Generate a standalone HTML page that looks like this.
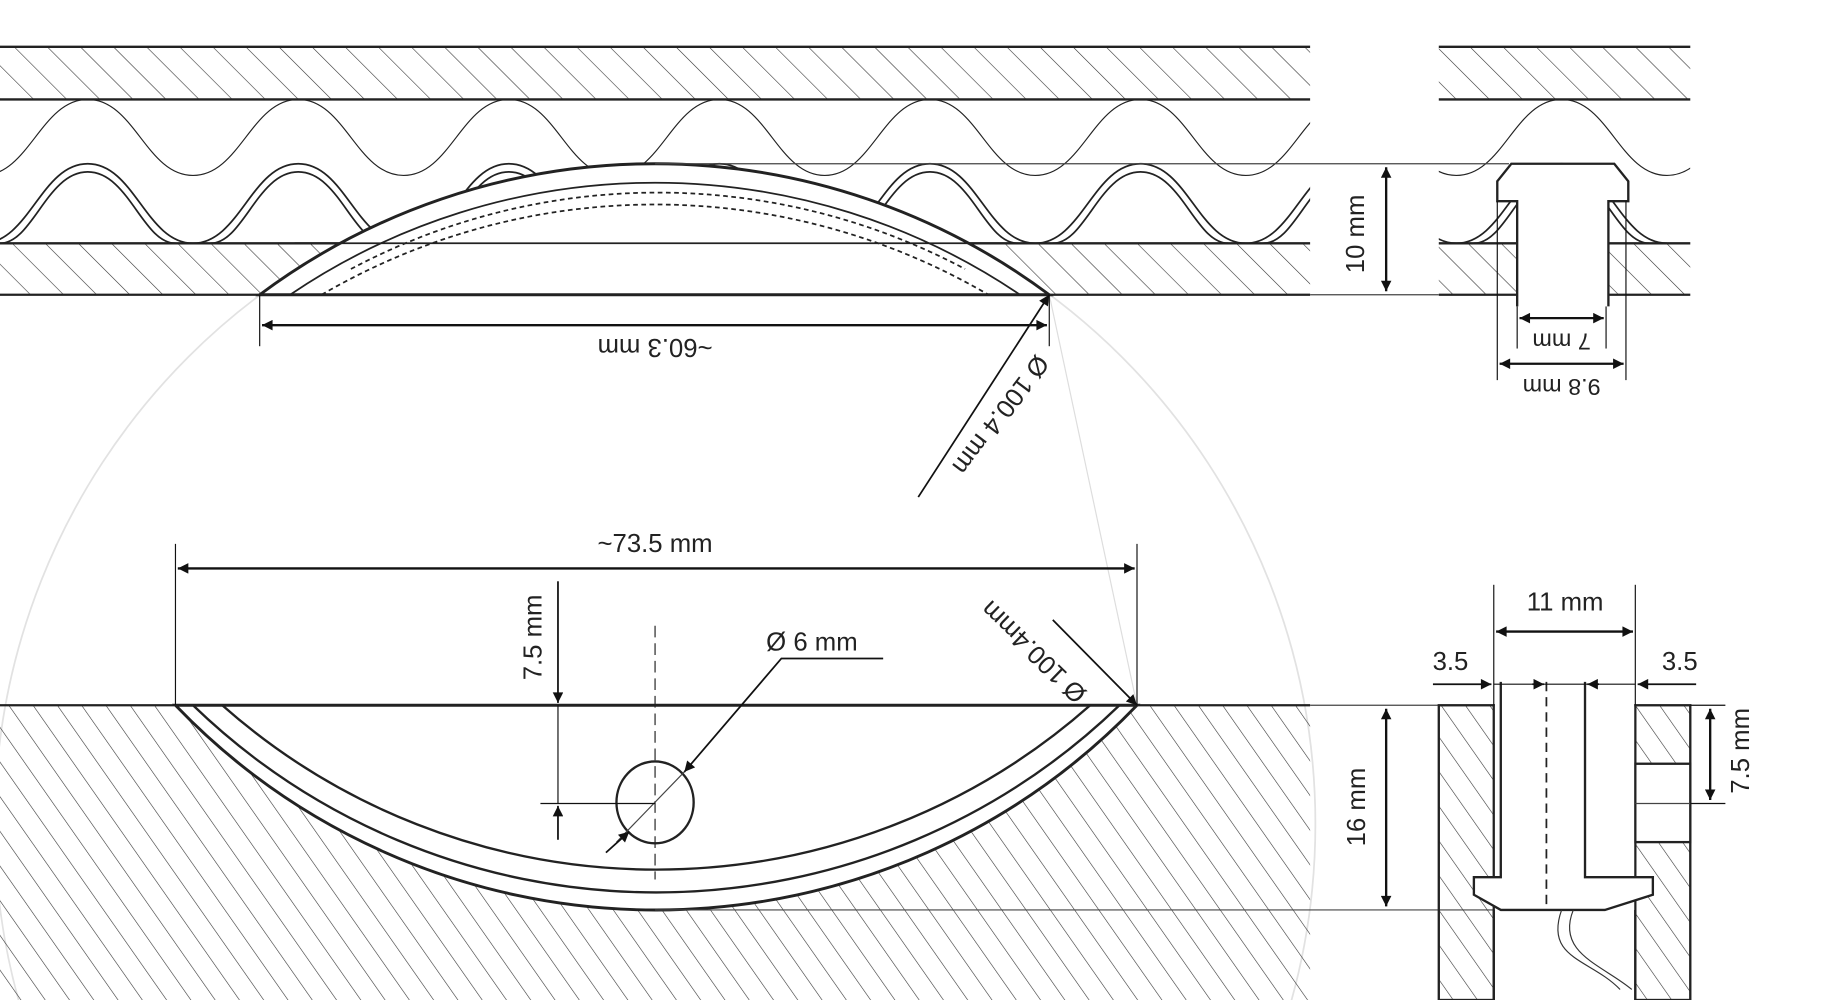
<!DOCTYPE html>
<html><head><meta charset="utf-8"><style>
html,body{margin:0;padding:0;background:#fff;width:1833px;height:1000px;overflow:hidden;}
svg{display:block;}
text{font-family:"Liberation Sans",sans-serif;fill:#222;}
</style></head><body>
<svg width="1833" height="1000" viewBox="0 0 1567 855" preserveAspectRatio="none" xmlns="http://www.w3.org/2000/svg">
<defs>
<pattern id="h1" width="20" height="20" patternUnits="userSpaceOnUse" patternTransform="rotate(-45)">
<line x1="0" y1="0" x2="0" y2="20" stroke="#333" stroke-width="1"/></pattern>
<pattern id="h2" width="17" height="17" patternUnits="userSpaceOnUse" patternTransform="rotate(-35)">
<line x1="0" y1="0" x2="0" y2="17" stroke="#333" stroke-width="1"/></pattern>
<marker id="a" viewBox="0 0 10 10" refX="10" refY="5" markerWidth="14" markerHeight="9" orient="auto-start-reverse" markerUnits="userSpaceOnUse"><path d="M0,0 L10,5 L0,10 z" fill="#111"/></marker>
<clipPath id="topc"><rect x="0" y="85" width="1120" height="123"/><rect x="1230" y="85" width="215" height="123"/></clipPath>
</defs>

<circle cx="560" cy="704.5" r="564.5" fill="none" stroke="#e2e2e2" stroke-width="1.5"/>
<line x1="897" y1="252" x2="972" y2="603" stroke="#ddd" stroke-width="1"/>

<rect x="0" y="40" width="1120" height="45" fill="url(#h1)"/>
<rect x="0" y="208" width="1120" height="44" fill="url(#h1)"/>
<rect x="1230" y="40" width="215" height="45" fill="url(#h1)"/>
<rect x="1230" y="208" width="215" height="44" fill="url(#h1)"/>

<g clip-path="url(#topc)" fill="none" stroke="#222">
<path stroke-width="1" d="M-105,85 C-65,85 -55,150 -15,150 C25,150 35,85 75,85 C115,85 125,150 165,150 C205,150 215,85 255,85 C295,85 305,150 345,150 C385,150 395,85 435,85 C475,85 485,150 525,150 C565,150 575,85 615,85 C655,85 665,150 705,150 C745,150 755,85 795,85 C835,85 845,150 885,150 C925,150 935,85 975,85 C1015,85 1025,150 1065,150 C1105,150 1115,85 1155,85 C1195,85 1205,150 1245,150 C1285,150 1295,85 1335,85 C1375,85 1385,150 1425,150 C1465,150 1475,85 1515,85"/>
<path stroke-width="1.5" d="M-105,140 C-65,140 -55,208 -15,208 C25,208 35,140 75,140 C115,140 125,208 165,208 C205,208 215,140 255,140 C295,140 305,208 345,208 C385,208 395,140 435,140 C475,140 485,208 525,208 C565,208 575,140 615,140 C655,140 665,208 705,208 C745,208 755,140 795,140 C835,140 845,208 885,208 C925,208 935,140 975,140 C1015,140 1025,208 1065,208 C1105,208 1115,140 1155,140 C1195,140 1205,208 1245,208 C1285,208 1295,140 1335,140 C1375,140 1385,208 1425,208"/>
<path stroke-width="1.5" d="M-105,147 C-70,147 -62,208 -30,208 M0,208 C28,208 40,147 75,147 C110,147 122,208 150,208 M180,208 C208,208 220,147 255,147 C290,147 302,208 330,208 M360,208 C388,208 400,147 435,147 C470,147 482,208 510,208 M540,208 C568,208 580,147 615,147 C650,147 662,208 690,208 M720,208 C748,208 760,147 795,147 C830,147 842,208 870,208 M900,208 C928,208 940,147 975,147 C1010,147 1022,208 1050,208 M1080,208 C1108,208 1120,147 1155,147 M1260,208 C1288,208 1300,147 1335,147 C1370,147 1382,208 1410,208"/>
</g>

<g stroke="#222" stroke-width="2">
<line x1="0" y1="40" x2="1120" y2="40"/><line x1="0" y1="85" x2="1120" y2="85"/>
<line x1="0" y1="208" x2="1120" y2="208"/><line x1="0" y1="252" x2="1120" y2="252"/>
<line x1="1230" y1="40" x2="1445" y2="40"/><line x1="1230" y1="85" x2="1445" y2="85"/>
<line x1="1230" y1="208" x2="1445" y2="208"/><line x1="1230" y1="252" x2="1445" y2="252"/>
</g>

<path d="M222,252 A564.5,564.5 0 0 1 897,252 Z" fill="#fff" stroke="#222" stroke-width="2.5"/>
<line x1="222" y1="252" x2="897" y2="252" stroke="#222" stroke-width="2"/>
<line x1="252" y1="208" x2="868" y2="208" stroke="#222" stroke-width="1.5"/>
<path d="M248,252 A556,556 0 0 1 872,252" fill="none" stroke="#222" stroke-width="1.5"/>
<path d="M275,252 A565,565 0 0 1 845,252" fill="none" stroke="#222" stroke-width="1.5" stroke-dasharray="4,3"/>
<path d="M300,230 A560,560 0 0 1 825,230" fill="none" stroke="#222" stroke-width="1.5" stroke-dasharray="4,3"/>
<line x1="560" y1="140" x2="1290" y2="140" stroke="#444" stroke-width="1"/>

<g stroke="#111" fill="none">
<line x1="222" y1="252" x2="222" y2="296" stroke-width="1"/>
<line x1="897" y1="252" x2="897" y2="296" stroke-width="1"/>
<line x1="224" y1="278" x2="895" y2="278" stroke-width="2" marker-start="url(#a)" marker-end="url(#a)"/>
<line x1="785" y1="425" x2="897" y2="252" stroke-width="1.5" marker-end="url(#a)"/>
</g>
<text x="560" y="290" font-size="22" text-anchor="middle" transform="rotate(180 560 290)">~60.3 mm</text>
<text x="886" y="302" font-size="22" transform="rotate(127 886 302)">Ø 100.4 mm</text>

<line x1="1185" y1="143" x2="1185" y2="249" stroke="#111" stroke-width="2" marker-start="url(#a)" marker-end="url(#a)"/>
<line x1="1120" y1="252" x2="1230" y2="252" stroke="#444" stroke-width="1"/>
<text x="1166" y="200" font-size="22" text-anchor="middle" transform="rotate(-90 1166 200)">10 mm</text>

<path d="M1297,262 L1297,172 L1280,172 L1280,155 L1292,140 L1380,140 L1392,155 L1392,172 L1375,172 L1375,262" fill="#fff" stroke="#222" stroke-width="2"/>
<g stroke="#111" fill="none">
<line x1="1280" y1="172" x2="1280" y2="325" stroke-width="1"/>
<line x1="1390" y1="172" x2="1390" y2="325" stroke-width="1"/>
<line x1="1297" y1="262" x2="1297" y2="298" stroke-width="1"/>
<line x1="1373" y1="262" x2="1373" y2="298" stroke-width="1"/>
<line x1="1299" y1="272" x2="1371" y2="272" stroke-width="2" marker-start="url(#a)" marker-end="url(#a)"/>
<line x1="1282" y1="311" x2="1388" y2="311" stroke-width="2" marker-start="url(#a)" marker-end="url(#a)"/>
</g>
<text x="1335" y="285" font-size="20" text-anchor="middle" transform="rotate(180 1335 285)">7 mm</text>
<text x="1335" y="324" font-size="20" text-anchor="middle" transform="rotate(180 1335 324)">9.8 mm</text>

<rect x="0" y="603" width="1120" height="252" fill="url(#h2)"/>
<path d="M150,603 A570,570 0 0 0 972,603 Z" fill="#fff" stroke="#222" stroke-width="2.5"/>
<path d="M165,603 A570,570 0 0 0 957,603" fill="none" stroke="#222" stroke-width="2"/>
<path d="M190,603 A560,560 0 0 0 932,603" fill="none" stroke="#222" stroke-width="2"/>
<line x1="0" y1="603" x2="1120" y2="603" stroke="#222" stroke-width="2"/>

<ellipse cx="560" cy="686" rx="33" ry="35" fill="none" stroke="#222" stroke-width="2"/>
<line x1="560" y1="535" x2="560" y2="752" stroke="#222" stroke-width="1" stroke-dasharray="10,5"/>
<line x1="527" y1="720" x2="585" y2="660" stroke="#444" stroke-width="1"/>
<g stroke="#111" fill="none">
<polyline points="755,563 668,563 585,660" stroke-width="1.5" marker-end="url(#a)"/>
<line x1="518" y1="729" x2="538" y2="711" stroke-width="1.5" marker-end="url(#a)"/>
<line x1="477" y1="497" x2="477" y2="601" stroke-width="1.5" marker-end="url(#a)"/>
<line x1="477" y1="603" x2="477" y2="687" stroke-width="1"/>
<line x1="462" y1="687" x2="560" y2="687" stroke-width="1"/>
<line x1="477" y1="718" x2="477" y2="689" stroke-width="1.5" marker-end="url(#a)"/>
<line x1="150" y1="465" x2="150" y2="603" stroke-width="1"/>
<line x1="972" y1="465" x2="972" y2="603" stroke-width="1"/>
<line x1="152" y1="486" x2="970" y2="486" stroke-width="2" marker-start="url(#a)" marker-end="url(#a)"/>
<line x1="900" y1="530" x2="972" y2="603" stroke-width="1.5" marker-end="url(#a)"/>
</g>
<text x="560" y="472" font-size="22" text-anchor="middle">~73.5 mm</text>
<text x="655" y="556" font-size="22">Ø 6 mm</text>
<text x="463" y="545" font-size="22" text-anchor="middle" transform="rotate(-90 463 545)">7.5 mm</text>
<text x="930" y="592" font-size="22" transform="rotate(-136 930 592)">Ø 100.4mm</text>

<line x1="560" y1="778" x2="1300" y2="778" stroke="#444" stroke-width="1"/>
<line x1="1120" y1="603" x2="1230" y2="603" stroke="#444" stroke-width="1"/>
<line x1="1185" y1="606" x2="1185" y2="775" stroke="#111" stroke-width="2" marker-start="url(#a)" marker-end="url(#a)"/>
<text x="1167" y="690" font-size="22" text-anchor="middle" transform="rotate(-90 1167 690)">16 mm</text>

<rect x="1230" y="603" width="47" height="252" fill="url(#h2)" stroke="#222" stroke-width="2"/>
<rect x="1398" y="603" width="47" height="252" fill="url(#h2)" stroke="#222" stroke-width="2"/>
<rect x="1398" y="653" width="47" height="67" fill="#fff" stroke="#222" stroke-width="2"/>
<line x1="1398" y1="687" x2="1445" y2="687" stroke="#444" stroke-width="1"/>
<rect x="1278" y="604" width="119" height="251" fill="#fff"/>
<path d="M1283,583 L1283,750 L1260,750 L1260,765 L1283,778 L1372,778 L1413,765 L1413,750 L1355,750 L1355,583" fill="#fff" stroke="#222" stroke-width="2"/>
<line x1="1322" y1="583" x2="1322" y2="775" stroke="#222" stroke-width="1.5" stroke-dasharray="8,5"/>
<line x1="1277" y1="778" x2="1277" y2="855" stroke="#222" stroke-width="2"/>
<line x1="1398" y1="778" x2="1398" y2="855" stroke="#222" stroke-width="2"/>
<path d="M1335,778 C1320,820 1360,820 1385,846 M1345,778 C1330,815 1370,825 1395,846" fill="none" stroke="#333" stroke-width="1"/>
<g stroke="#111" fill="none">
<line x1="1277" y1="500" x2="1277" y2="603" stroke-width="1"/>
<line x1="1398" y1="500" x2="1398" y2="603" stroke-width="1"/>
<line x1="1279" y1="540" x2="1396" y2="540" stroke-width="2" marker-start="url(#a)" marker-end="url(#a)"/>
<line x1="1277" y1="585" x2="1398" y2="585" stroke-width="1"/>
<line x1="1225" y1="585" x2="1275" y2="585" stroke-width="1.5" marker-end="url(#a)"/>
<line x1="1450" y1="585" x2="1400" y2="585" stroke-width="1.5" marker-end="url(#a)"/>
<line x1="1310" y1="585" x2="1320" y2="585" stroke-width="1.5" marker-end="url(#a)"/>
<line x1="1367" y1="585" x2="1357" y2="585" stroke-width="1.5" marker-end="url(#a)"/>
<line x1="1445" y1="603" x2="1475" y2="603" stroke-width="1"/>
<line x1="1445" y1="687" x2="1475" y2="687" stroke-width="1"/>
<line x1="1462" y1="606" x2="1462" y2="684" stroke-width="2" marker-start="url(#a)" marker-end="url(#a)"/>
</g>
<text x="1338" y="522" font-size="22" text-anchor="middle">11 mm</text>
<text x="1240" y="573" font-size="22" text-anchor="middle">3.5</text>
<text x="1436" y="573" font-size="22" text-anchor="middle">3.5</text>
<text x="1495" y="642" font-size="22" text-anchor="middle" transform="rotate(-90 1495 642)">7.5 mm</text>
</svg>
</body></html>
